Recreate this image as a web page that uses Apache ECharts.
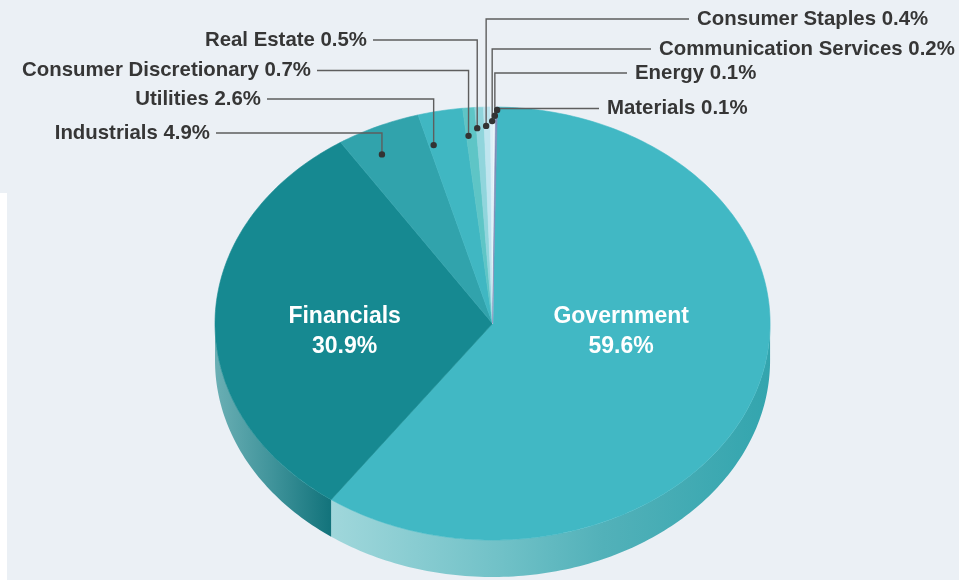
<!DOCTYPE html>
<html>
<head>
  <meta charset="utf-8">
  <title>Sector allocation</title>
  <script src="https://cdn.jsdelivr.net/npm/echarts@6/dist/echarts.min.js"></script>
  <style>
    html,
    body {
      margin: 0;
      background-color: #ebf0f5;
    }

    #main {
      width: 959px;
      height: 580px;
    }

    .edge {
      position: absolute;
      left: 0;
      top: 193px;
      width: 7px;
      height: 387px;
      background-color: #fff;
    }
  </style>
</head>
<body>
  <div id="main"></div>
  <div class="edge"></div>
  <script>
    // data
    var sectors = ['Government', 'Financials', 'Industrials', 'Utilities', 'Consumer Discretionary',
      'Real Estate', 'Consumer Staples', 'Communication Services', 'Energy', 'Materials'];
    var weights = [59.6, 30.9, 4.9, 2.6, 0.7, 0.5, 0.4, 0.2, 0.1, 0.1];

    // styles
    var sliceColors = ['#41b8c4', '#168991', '#31a3ac', '#40b7c2', '#5ec5c6',
      '#90d5dc', '#bfe5ef', '#dff1f8', '#eef8fc', '#7e8db8'];
    var sideStops = {
      'Government': [[0, '#a0d7db'], [0.39, '#70c1c7'], [0.62, '#52b1b9'], [1, '#33a5ae']],
      'Financials': [[0, '#6aafb4'], [0.5, '#3f939a'], [1, '#12737b']]
    };

    // label placement: where the dot sits inside the slice, which row the text uses
    var inside = { 'Government': 0.488, 'Financials': 0.533 };
    var outside = {
      'Industrials': { side: 'l', row: 133, end: 216, at: 0.35, depth: 0.877 },
      'Utilities': { side: 'l', row: 99, end: 267, at: 0.12, depth: 0.851 },
      'Consumer Discretionary': { side: 'l', row: 70.5, end: 317, at: 0.2, depth: 0.871 },
      'Real Estate': { side: 'l', row: 40, end: 373, at: 0.1, depth: 0.904 },
      'Consumer Staples': { side: 'r', row: 19, end: 689, at: 0.3, depth: 0.913 },
      'Communication Services': { side: 'r', row: 49, end: 651, at: 0.5, depth: 0.935 },
      'Energy': { side: 'r', row: 73, end: 627, at: 0.6, depth: 0.96 },
      'Materials': { side: 'r', row: 108.5, end: 599, at: 0.9, depth: 0.986 }
    };

    var OFFSET = 1.0;
    var total = 0;
    for (var i = 0; i < weights.length; i++) total += weights[i];
    var starts = [], ends = [];
    var acc = 0;
    for (var i = 0; i < weights.length; i++) {
      starts.push(OFFSET + 360 * acc / total);
      acc += weights[i];
      ends.push(OFFSET + 360 * acc / total);
    }

    var CX, CY, RX, RY, DEPTH;

    function pt(t, f, dy) {
      var r = t * Math.PI / 180;
      return [CX + RX * f * Math.sin(r), CY - RY * f * Math.cos(r) + (dy || 0)];
    }

    function arc(t0, t1, dy) {
      var n = Math.max(2, Math.ceil(t1 - t0) + 1);
      var pts = [];
      for (var k = 0; k < n; k++) {
        pts.push(pt(t0 + (t1 - t0) * k / (n - 1), 1, dy));
      }
      return pts;
    }

    function renderItem(params, api) {
      var w = api.getWidth(), h = api.getHeight();
      CX = w * 0.5136; CY = h * 0.5578;
      RX = w * 0.2894; RY = h * 0.3733; DEPTH = 37;

      var idx = params.dataIndex;
      var name = sectors[idx];
      var t0 = starts[idx], t1 = ends[idx];
      var color = sliceColors[idx];
      var children = [];

      // top face
      var top = [[CX, CY]].concat(arc(t0, t1, 0));
      children.push({
        type: 'polygon',
        z2: 2,
        shape: { points: top },
        style: { fill: color, stroke: color, lineWidth: 0.6 }
      });

      // side face, only the front half shows
      var a = Math.max(t0, 90), b = Math.min(t1, 270);
      if (b > a) {
        var upper = arc(a, b, 0);
        var lower = arc(a, b, DEPTH).reverse();
        var stops = sideStops[name] || [[0, color], [1, color]];
        children.push({
          type: 'polygon',
          z2: 1,
          shape: { points: upper.concat(lower) },
          style: {
            fill: new echarts.graphic.LinearGradient(0, 0, 1, 0, stops.map(function (s) {
              return { offset: s[0], color: s[1] };
            }))
          }
        });
      }

      if (inside[name] !== undefined) {
        var mid = pt((t0 + t1) / 2, inside[name], 0);
        children.push({
          type: 'text',
          z2: 12,
          style: {
            text: name + '\n' + weights[idx].toFixed(1) + '%',
            x: mid[0], y: CY + 8,
            align: 'center', verticalAlign: 'middle',
            fill: '#ffffff',
            font: 'bold 23px "Liberation Sans", Arial, sans-serif',
            lineHeight: 30
          }
        });
      } else if (outside[name]) {
        var o = outside[name];
        var dot = pt(t0 + (t1 - t0) * o.at, o.depth, 0);
        children.push({
          type: 'polyline',
          z2: 10,
          shape: { points: [dot, [dot[0], o.row], [o.end, o.row]] },
          style: { stroke: '#5e5e5e', lineWidth: 1.4, fill: null }
        });
        children.push({
          type: 'circle',
          z2: 11,
          shape: { cx: dot[0], cy: dot[1], r: 3.2 },
          style: { fill: '#333333' }
        });
        children.push({
          type: 'text',
          z2: 12,
          style: {
            text: name + ' ' + weights[idx].toFixed(1) + '%',
            x: o.side === 'l' ? o.end - 6 : o.end + 8,
            y: o.row,
            align: o.side === 'l' ? 'right' : 'left',
            verticalAlign: 'middle',
            fill: '#363636',
            font: 'bold 20.4px "Liberation Sans", Arial, sans-serif'
          }
        });
      }

      return { type: 'group', children: children };
    }

    var myChart = echarts.init(document.getElementById('main'));
    var option = {
      animation: false,
      backgroundColor: 'transparent',
      series: [{
        type: 'custom',
        coordinateSystem: 'none',
        renderItem: renderItem,
        data: weights.map(function (v, i) {
          return { name: sectors[i], value: v };
        })
      }]
    };
    myChart.setOption(option);
  </script>
</body>
</html>
